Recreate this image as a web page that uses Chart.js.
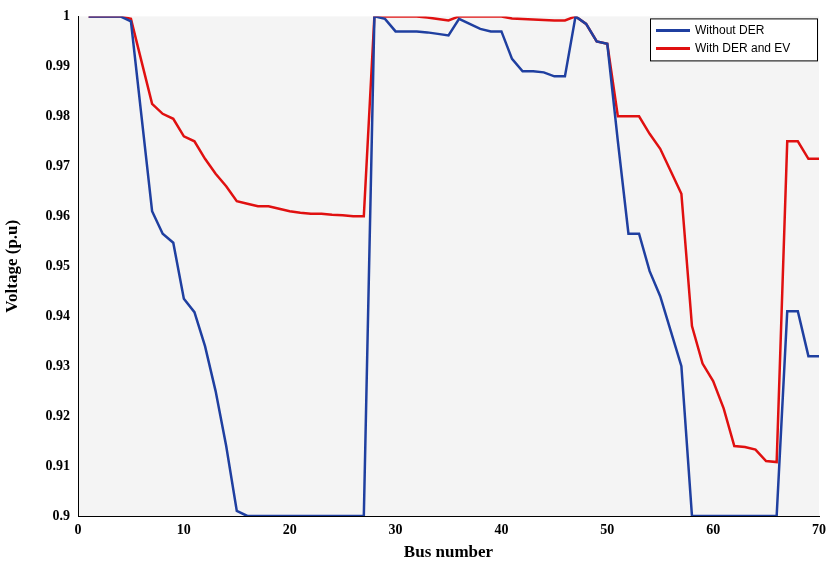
<!DOCTYPE html>
<html><head><meta charset="utf-8">
<script src="https://cdn.jsdelivr.net/npm/chart.js@4/dist/chart.umd.min.js"></script>
<style>html,body{margin:0;padding:0;background:#fff;overflow:hidden}#wrap{width:832px;height:563px}</style>
</head><body><div id="wrap"><canvas id="c"></canvas></div>
<script>
const buses = Array.from({ length: 70 }, (_, i) => i + 1);
const withoutDER = [1,1,1,1,0.999,0.98,0.961,0.9565,0.9547,0.9435,0.9408,0.934,0.925,0.914,0.901,0.9,0.9,0.9,0.9,0.9,0.9,0.9,0.9,0.9,0.9,0.9,0.9,
  1,0.9995,0.997,0.997,0.997,0.9968,0.9965,0.9962,0.9995,0.9985,0.9975,0.997,0.997,0.9915,0.989,0.989,0.9888,0.988,0.988,1,0.9985,0.995,0.9945,
  0.975,0.9565,0.9565,0.949,0.944,0.937,0.930,0.9,0.9,0.9,0.9,0.9,0.9,0.9,0.9,0.9,0.941,0.941,0.932,0.932];
const withDEREV = [1,1,1,1,0.9995,0.991,0.9825,0.9805,0.9795,0.976,0.975,0.9715,0.9685,0.966,0.963,0.9625,0.962,0.962,0.9615,0.961,0.9607,0.9605,0.9605,0.9603,0.9602,0.96,0.96,
  1,1,1,1,1,0.9998,0.9995,0.9992,1,1,1,1,1,0.9996,0.9995,0.9994,0.9993,0.9992,0.9992,1,0.9985,0.995,0.9945,
  0.980,0.980,0.980,0.9765,0.9735,0.969,0.9645,0.938,0.9305,0.927,0.9215,0.914,0.9138,0.9133,0.911,0.9108,0.975,0.975,0.9715,0.9715];
const xTicks = [0,10,20,30,40,50,60,70];

const bgPlugin = {
  id: 'bg',
  beforeDraw(chart) {
    const { ctx, chartArea: a } = chart;
    ctx.save(); ctx.fillStyle = '#f4f4f4';
    ctx.fillRect(a.left, a.top, a.right - a.left, a.bottom - a.top); ctx.restore();
  },
  afterDraw(chart) {
    const { ctx, chartArea: a } = chart;
    const w = 167, h = 42, x = a.right - w - 2, y = a.top + 2;
    ctx.save();
    ctx.fillStyle = '#fff'; ctx.strokeStyle = '#000'; ctx.lineWidth = 1;
    ctx.fillRect(x, y, w, h); ctx.strokeRect(x + 0.5, y + 0.5, w, h);
    ctx.font = '12px "Liberation Sans", Arial'; ctx.fillStyle = '#000'; ctx.textBaseline = 'middle';
    [['Without DER', '#1f3fa0'], ['With DER and EV', '#e01010']].forEach(([t, c], i) => {
      const yy = y + 12 + i * 18;
      ctx.strokeStyle = c; ctx.lineWidth = 3;
      ctx.beginPath(); ctx.moveTo(x + 6, yy); ctx.lineTo(x + 40, yy); ctx.stroke();
      ctx.fillText(t, x + 45, yy);
    });
    ctx.restore();
  }
};

new Chart(document.getElementById('c'), {
  type: 'line',
  data: {
    datasets: [
      { label: 'Without DER', data: buses.map((b, i) => ({ x: b, y: withoutDER[i] })), borderColor: '#1f3fa0', borderWidth: 2.5, pointRadius: 0, tension: 0 },
      { label: 'With DER and EV', data: buses.map((b, i) => ({ x: b, y: withDEREV[i] })), borderColor: '#e01010', borderWidth: 2.5, pointRadius: 0, tension: 0 },
    ],
  },
  options: {
    animation: false, responsive: true, maintainAspectRatio: false,
    layout: { padding: { top: 5, right: -9 } },
    plugins: { legend: { display: false }, tooltip: { enabled: false } },
    scales: {
      x: {
        type: 'linear', min: 0, max: 70,
        afterBuildTicks: (s) => { s.ticks = xTicks.map((v) => ({ value: v })); },
        afterFit: (s) => { s.height = 47; },
        grid: { display: false, drawTicks: false }, border: { color: '#000' },
        ticks: { color: '#000', padding: 6, maxRotation: 0, font: { family: '"Liberation Serif", serif', size: 14, weight: 'bold' } },
        title: { display: true, text: 'Bus number', color: '#000', padding: 0, font: { family: '"Liberation Serif", serif', size: 17, weight: 'bold' } },
      },
      y: {
        min: 0.9, max: 1,
        afterFit: (s) => { s.width = 78; },
        grid: { display: false, drawTicks: false }, border: { color: '#000' },
        ticks: { stepSize: 0.01, color: '#000', padding: 8, font: { family: '"Liberation Serif", serif', size: 14, weight: 'bold' },
          callback: (v) => String(Math.round(v * 100) / 100) },
        title: { display: true, text: 'Voltage (p.u)', color: '#000', padding: 2, font: { family: '"Liberation Serif", serif', size: 17, weight: 'bold' } },
      },
    },
  },
  plugins: [bgPlugin],
});
</script></body></html>
